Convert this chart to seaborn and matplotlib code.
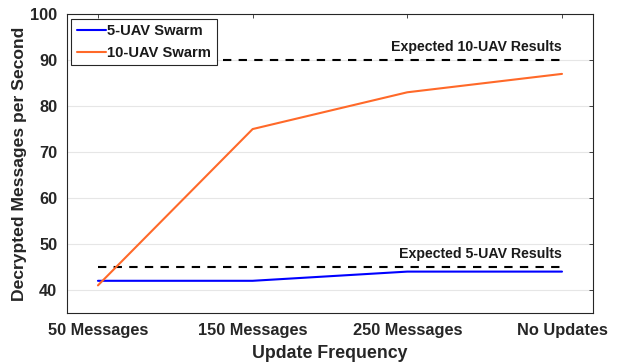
import pandas as pd
import matplotlib
matplotlib.use("Agg")
import matplotlib.pyplot as plt
import seaborn as sns

categorias = ["50 Messages", "150 Messages", "250 Messages", "No Updates"]
swarm_5 = [42, 42, 44, 44]
swarm_10 = [41, 75, 83, 87]
esperado_5 = 45
esperado_10 = 90

sns.set_theme(style="white")
plt.rcParams['font.family'] = ['Liberation Sans', 'DejaVu Sans']
plt.rcParams['font.weight'] = 'bold'

df = pd.DataFrame({
    'frecuencia': categorias * 2,
    'mensajes': swarm_5 + swarm_10,
    'serie': ['5-UAV Swarm'] * 4 + ['10-UAV Swarm'] * 4,
})

fig = plt.figure(figsize=(6.17, 3.62), dpi=100)
ax = fig.add_axes([0.1086, 0.1354, 0.8524, 0.8256])

sns.lineplot(data=df, x='frecuencia', y='mensajes', hue='serie',
             palette={'5-UAV Swarm': '#0000ff', '10-UAV Swarm': '#ff6929'},
             linewidth=1.5, ax=ax)

# lineas de referencia esperadas
xs = list(range(len(categorias)))
ax.plot([xs[0], xs[-1]], [esperado_10] * 2, ls=(0, (4, 3.5)), color='black', lw=1.5, zorder=1)
ax.plot([xs[0], xs[-1]], [esperado_5] * 2, ls=(0, (4, 3.5)), color='black', lw=1.5, zorder=1)
ax.text(xs[-1], esperado_10 + 1.4, 'Expected 10-UAV Results', ha='right', va='bottom',
        fontsize=10.2, fontweight='bold', color='#1a1a1a')
ax.text(xs[-1], esperado_5 + 1.4, 'Expected 5-UAV Results', ha='right', va='bottom',
        fontsize=10.2, fontweight='bold', color='#1a1a1a')

ax.set_xlim(-0.2, 3.2)
ax.set_ylim(35, 100)
ax.set_yticks([40, 50, 60, 70, 80, 90, 100])
ax.set_xticks(xs)
ax.set_xticklabels(categorias)
ax.yaxis.grid(True, color='#e6e6e6', lw=0.8)
ax.set_axisbelow(True)
for s in ax.spines.values():
    s.set_color('#262626')
    s.set_linewidth(0.8)
ax.tick_params(axis='both', which='both', direction='in', length=3, width=0.6,
               color='#262626', labelsize=11.8, labelcolor='#262626',
               top=True, right=True, pad=7)
for lbl in ax.get_xticklabels() + ax.get_yticklabels():
    lbl.set_fontweight('bold')
ax.set_xlabel('Update Frequency', fontsize=12.8, fontweight='bold', color='#262626', labelpad=5)
ax.set_ylabel('Decrypted Messages per Second', fontsize=12.6, fontweight='bold', color='#262626', labelpad=2)

leg = ax.legend(loc='upper left', fontsize=10.6, frameon=True, fancybox=False, framealpha=1,
                edgecolor='#262626', handlelength=2.0, borderpad=0.35, labelspacing=0.55,
                handletextpad=0.1, borderaxespad=0.3)
leg.get_frame().set_linewidth(0.8)
for t in leg.get_texts():
    t.set_fontweight('bold')
    t.set_color('#1a1a1a')

fig.savefig('out.png', dpi=100)
